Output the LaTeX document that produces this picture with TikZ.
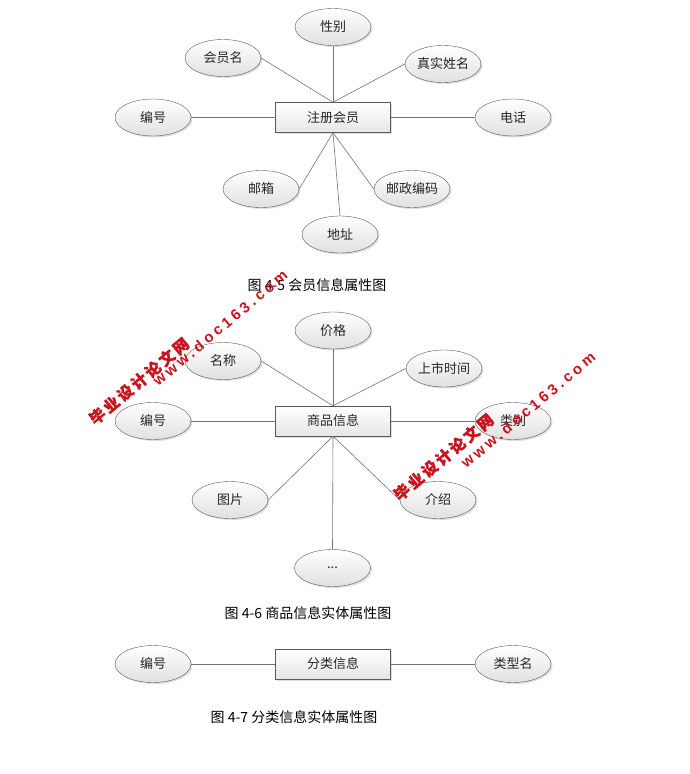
\documentclass[tikz,border=0pt]{standalone}
\usepackage{fontspec}
\setmainfont{Noto Sans CJK SC}
\newfontfamily\cinesefiligrana[LetterSpace=17,FakeBold=1.5]{Noto Sans CJK SC}
\newfontfamily\sitofiligrana[LetterSpace=23]{Liberation Sans}
\usepackage{tikz}
\usetikzlibrary{shapes.geometric,shadows}
\definecolor{rossofiligrana}{RGB}{200,20,30}
\tikzstyle{nodoentita} = [rectangle,minimum width=115pt,minimum height=30pt,inner sep=0pt,text centered,draw=black!65,top color=white,bottom color=black!10,drop shadow={shadow xshift=1.5pt,shadow yshift=-1.5pt,fill=black!25},text=black!85]
\tikzstyle{nodoattributo} = [ellipse,minimum width=76pt,minimum height=37pt,inner sep=0pt,text centered,draw=black!65,top color=white,bottom color=black!12,drop shadow={shadow xshift=1.5pt,shadow yshift=-1.5pt,fill=black!25},text=black!85]
\tikzstyle{didascalia} = [font=\fontsize{14}{16}\selectfont,text=black]
\tikzstyle{linea} = [black!55,line width=0.6pt]
\tikzstyle{filigrana} = [rotate=40,text=rossofiligrana,inner sep=0pt]

\begin{document}
\begin{tikzpicture}[x=1pt,y=-1pt]
\tikzstyle{every node}=[font=\fontsize{13}{15}\selectfont]
\useasboundingbox (0,0) rectangle (690,774);

% registered member
\node (E1) [nodoentita] at (333,117.5) {注册会员};
\node (E1_xb) [nodoattributo] at (333,27) {性别};
\node (E1_hym) [nodoattributo] at (223,58) {会员名};
\node (E1_zsxm) [nodoattributo] at (443,64) {真实姓名};
\node (E1_bh) [nodoattributo] at (153,117.5) {编号};
\node (E1_dh) [nodoattributo] at (513,117.5) {电话};
\node (E1_yx) [nodoattributo] at (261,189) {邮箱};
\node (E1_dz) [nodoattributo] at (340,234.5) {地址};
\node (E1_yzbm) [nodoattributo] at (412,189) {邮政编码};

\draw[linea] (E1.north) -- (E1_xb.south);
\draw[linea] (E1.north) -- (E1_hym.east);
\draw[linea] (E1.north) -- (E1_zsxm.west);
\draw[linea] (E1.west) -- (E1_bh.east);
\draw[linea] (E1.east) -- (E1_dh.west);
\draw[linea] (E1.south) -- (E1_yx.east);
\draw[linea] (E1.south) -- (E1_dz.north);
\draw[linea] (E1.south) -- (E1_yzbm.west);

\node (D1) [didascalia] at (317,285) {图 4-5 会员信息属性图};

% goods
\node (E2) [nodoentita] at (333,421) {商品信息};
\node (E2_jg) [nodoattributo] at (333,330.5) {价格};
\node (E2_mc) [nodoattributo] at (223,361) {名称};
\node (E2_sssj) [nodoattributo] at (444,368.5) {上市时间};
\node (E2_bh) [nodoattributo] at (153,421) {编号};
\node (E2_lb) [nodoattributo] at (513,421) {类别};
\node (E2_tp) [nodoattributo] at (230,500) {图片};
\node (E2_js) [nodoattributo] at (438,500) {介绍};
\node (E2_dd) [nodoattributo] at (332.5,568) {...};

\draw[linea] (E2.north) -- (E2_jg.south);
\draw[linea] (E2.north) -- (E2_mc.east);
\draw[linea] (E2.north) -- (E2_sssj.west);
\draw[linea] (E2.west) -- (E2_bh.east);
\draw[linea] (E2.east) -- (E2_lb.west);
\draw[linea] (E2.south) -- (E2_tp.east);
\draw[linea] (E2.south) -- (E2_js.west);
\draw[linea] (E2.south) -- (E2_dd.north);

\node (D2) [didascalia] at (308,613) {图 4-6 商品信息实体属性图};

% category
\node (E3) [nodoentita] at (333,664) {分类信息};
\node (E3_bh) [nodoattributo] at (153,664) {编号};
\node (E3_lxm) [nodoattributo] at (513,664) {类型名};

\draw[linea] (E3.west) -- (E3_bh.east);
\draw[linea] (E3.east) -- (E3_lxm.west);

\node (D3) [didascalia] at (294,717) {图 4-7 分类信息实体属性图};

% watermarks
\node (F1a) [filigrana,font=\cinesefiligrana\bfseries\fontsize{15.5}{18}\selectfont] at (139,381) {毕业设计论文网};
\node (F1b) [filigrana,font=\sitofiligrana\bfseries\fontsize{15}{17}\selectfont] at (220,328) {www.doc163.com};
\node (F2a) [filigrana,font=\cinesefiligrana\bfseries\fontsize{15.5}{18}\selectfont] at (443.5,457) {毕业设计论文网};
\node (F2b) [filigrana,font=\sitofiligrana\bfseries\fontsize{15}{17}\selectfont] at (528,410) {www.doc163.com};
\end{tikzpicture}
\end{document}
